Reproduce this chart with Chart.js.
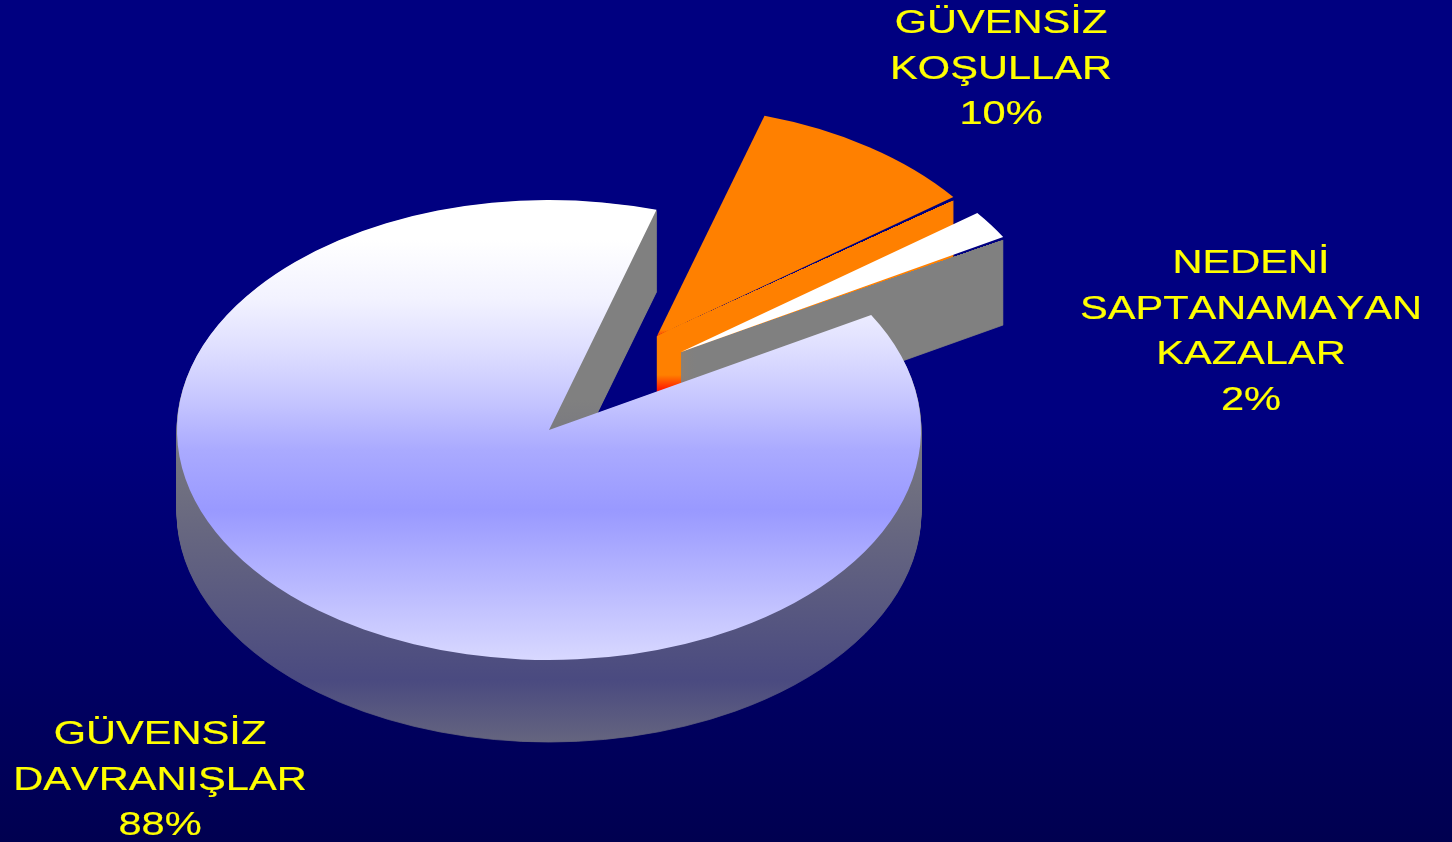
<!DOCTYPE html>
<html>
<head>
<meta charset="utf-8">
<script src="https://cdn.jsdelivr.net/npm/chart.js@4"></script>
<style>
  html, body { margin: 0; padding: 0; }
  body { width: 1452px; height: 842px; overflow: hidden; background: linear-gradient(180deg, #000080 0%, #000080 50%, #000050 100%); }
  canvas { display: block; }
</style>
</head>
<body>
<canvas id="chart" width="1452" height="842"></canvas>
<script>
const categories = [
  ["GÜVENSİZ", "DAVRANIŞLAR"],
  ["GÜVENSİZ", "KOŞULLAR"],
  ["NEDENİ", "SAPTANAMAYAN", "KAZALAR"],
];
const values = [88, 10, 2];

// painter's order: exploded slices first, big slice in front
const drawOrder = [1, 2, 0];

const pie3d = {
  id: "pie3d",
  beforeDatasetDraw(chart, args, opts) {
    const ctx = chart.ctx;
    const arcs = chart.getDatasetMeta(0).data;
    const cy = arcs[0].y;

    const grad = (stops, shiftY) => {
      const top = stops[0][0];
      const bottom = stops[stops.length - 1][0];
      const toLocal = (y) => cy + (y - shiftY - cy) / opts.squash;
      const g = ctx.createLinearGradient(0, toLocal(top), 0, toLocal(bottom));
      stops.forEach(([y, color]) => g.addColorStop((y - top) / (bottom - top), color));
      return g;
    };

    const paint = (arc, fill, shiftX, shiftY, isWall) => {
      const base = arc.options;
      const over = { backgroundColor: { value: fill } };
      if (isWall) {
        over.borderWidth = { value: 1 };
        over.borderColor = { value: fill };
      }
      arc.options = Object.create(base, over);
      ctx.save();
      ctx.translate(shiftX, shiftY + cy);
      ctx.scale(1, opts.squash);
      ctx.translate(0, -cy);
      arc.draw(ctx);
      ctx.restore();
      arc.options = base;
    };

    // the thin dark seam under an exploded slice: the wall starts a little
    // below the face at the rim and meets it at the tip
    const clipSeam = (arc, ex, ey, gap) => {
      const ax = arc.x + ex;
      const ay = cy + ey;
      const rx = ax + arc.outerRadius * Math.cos(arc.endAngle);
      const ry = ay + arc.outerRadius * Math.sin(arc.endAngle) * opts.squash + gap;
      const slope = (ry - ay) / (rx - ax);
      ctx.beginPath();
      ctx.moveTo(0, ay - slope * ax);
      ctx.lineTo(chart.width, ay + slope * (chart.width - ax));
      ctx.lineTo(chart.width, chart.height);
      ctx.lineTo(0, chart.height);
      ctx.closePath();
      ctx.clip();
    };

    drawOrder.forEach((i) => {
      const arc = arcs[i];
      const [ex, ey] = opts.explode[i];
      ctx.save();
      if (opts.seam[i]) clipSeam(arc, ex, ey, opts.seam[i]);
      for (let d = opts.depth[i]; d >= 1; d--) {
        paint(arc, grad(opts.wall[i], ey + d), ex, ey + d, true);
      }
      ctx.restore();
      paint(arc, grad(opts.face[i], ey), ex, ey, false);
    });
    return false;
  },
  afterDraw(chart, args, opts) {
    const ctx = chart.ctx;
    ctx.save();
    ctx.fillStyle = "#ffff00";
    ctx.strokeStyle = "#ffff00";
    ctx.lineWidth = opts.weight;
    ctx.textAlign = "center";
    ctx.textBaseline = "alphabetic";
    ctx.font = opts.font;
    ctx.fontKerning = "none";
    categories.forEach((lines, i) => {
      const [x, y] = opts.labelAt[i];
      [...lines, `${values[i]}%`].forEach((text, n) => {
        ctx.save();
        ctx.translate(x, y + n * opts.lineStep);
        ctx.scale(opts.stretch, 1);
        ctx.fillText(text, 0, 0);
        ctx.strokeText(text, 0, 0);
        ctx.restore();
      });
    });
    ctx.restore();
  },
};

new Chart(document.getElementById("chart"), {
  type: "pie",
  data: {
    labels: categories.map((c) => c.join(" ")),
    datasets: [{ data: values, backgroundColor: ["#9999ff", "#ff8000", "#ffffff"], borderWidth: 0 }],
  },
  options: {
    responsive: false,
    animation: false,
    rotation: 60,
    radius: 372,
    layout: { padding: { top: 18, right: 354 } },
    plugins: {
      legend: { display: false },
      tooltip: { enabled: false },
      pie3d: {
        squash: 230 / 372,
        explode: [[0, 0], [108, -94], [132, -78]],
        depth: [82, 82, 88],
        seam: [0, 3.7, 3],
        face: [
          [[200, "#ffffff"], [240, "#ffffff"], [300, "#f2f2ff"], [350, "#dedeff"], [400, "#c6c6ff"], [450, "#aaaaff"], [510, "#9999ff"], [660, "#d8d8ff"]],
          [[100, "#ff8000"], [330, "#ff8000"], [337, "#ff3000"]],
          [[100, "#ffffff"], [400, "#ffffff"]],
        ],
        wall: [
          [[200, "#808080"], [400, "#808080"], [680, "#4a4a80"], [745, "#66667f"]],
          [[190, "#ff8000"], [375, "#ff8000"], [391, "#ff1000"]],
          [[200, "#808080"], [400, "#808080"]],
        ],
        font: "33px 'Liberation Sans', Arial, sans-serif",
        weight: 0.2,
        stretch: 1.26,
        lineStep: 45.5,
        labelAt: [[160, 744], [1001, 33], [1251, 273]],
      },
    },
  },
  plugins: [pie3d],
});
</script>
</body>
</html>
